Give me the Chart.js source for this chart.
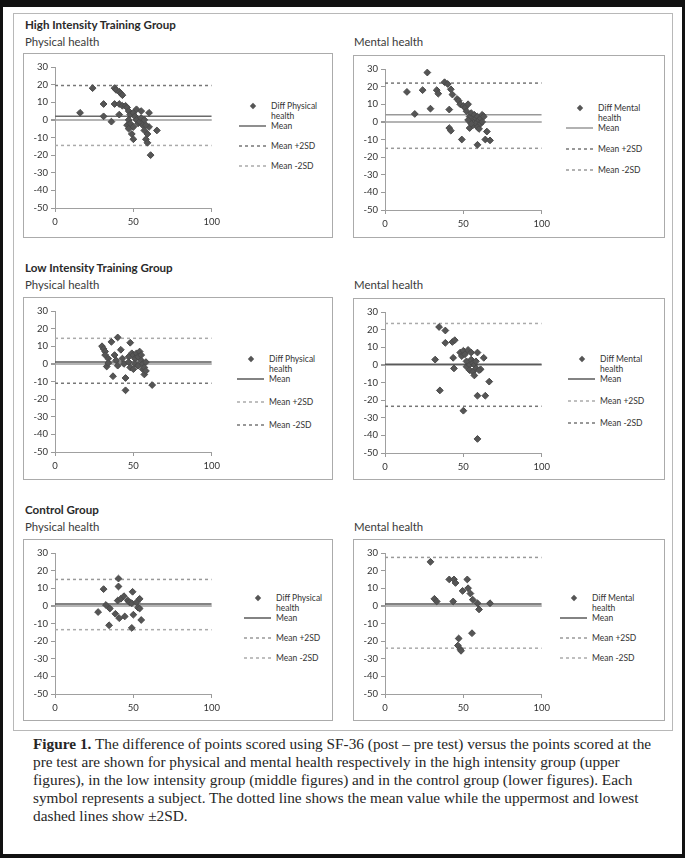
<!DOCTYPE html>
<html>
<head>
<meta charset="utf-8">
<script src="https://cdn.jsdelivr.net/npm/chart.js@4.4.0/dist/chart.umd.min.js"></script>
<style>
  html, body { margin: 0; padding: 0; }
  body { width: 685px; height: 858px; position: relative; background: #fff; overflow: hidden;
         font-family: Lato, "Liberation Sans", sans-serif; color: #2a2a2a; }
  .page { position: absolute; left: 0; top: 0; width: 685px; height: 858px; box-sizing: border-box;
          border-style: solid; border-color: #111; border-width: 7px 3px 4px 3px; }
  .frame { position: absolute; left: 13px; top: 13px; width: 660px; height: 718px; box-sizing: border-box;
           border: 1.5px solid #b8b8b8; }
  .h { position: absolute; white-space: nowrap; font-size: 11.4px; line-height: 13px; color: #3a3a3a; }
  .h.b { font-weight: bold; font-size: 11.6px; color: #2a2a2a; }
  .box { position: absolute; box-sizing: border-box; border: 1px solid #ababab; background: #fff; }
  .box canvas { position: absolute; left: 0; top: 0; }
  .leg { position: absolute; left: 0; top: 0; font-size: 8.5px; color: #333; }
  .leg .t { position: absolute; white-space: nowrap; line-height: 10px; }
  .leg svg { position: absolute; overflow: visible; }
  .cap { position: absolute; left: 33px; top: 735px; font-family: "Liberation Serif", "DejaVu Serif", serif;
         font-size: 15.3px; line-height: 18px; color: #262626; white-space: nowrap; }
</style>
</head>
<body>
<div class="page"></div>
<div class="frame"></div>
<div id="root"></div>
<div class="cap"><b>Figure 1.</b> The difference of points scored using SF-36 (post – pre test) versus the points scored at the<br>pre test are shown for physical and mental health respectively in the high intensity group (upper<br>figures), in the low intensity group (middle figures) and in the control group (lower figures). Each<br>symbol represents a subject. The dotted line shows the mean value while the uppermost and lowest<br>dashed lines show ±2SD.</div>
<script>
// titles and labels
const groupTitles = ['High Intensity Training Group', 'Low Intensity Training Group', 'Control Group'];
const measureTitles = ['Physical health', 'Mental health'];
const pointLabels = ['Diff Physical health', 'Diff Mental health'];
const lineLabels = ['Mean', 'Mean +2SD', 'Mean -2SD'];

// axes
const xMin = 0, xMax = 100, xStep = 50;
const yMin = -50, yMax = 30, yStep = 10;

// [pre test score, post - pre difference]
const highPhysical = [[24,18],[16,4],[31,9],[31,2],[36,-1],[38,18],[39,17],[41,16],[42,15],[43,14],[38,9],[41,9],[43,8],
  [41,3],[45,8],[46,7],[47,5],[48,3],[47,0],[46,-3],[47,-5],[49,-8],[50,-11],[50,4],[51,2],[52,0],[53,-2],[54,-1],
  [55,1],[56,-3],[57,-6],[58,-11],[59,-13],[59,-8],[60,-4],[60,4],[61,-20],[65,-6],[52,6],[55,5],[48,-2],[50,-4],[57,0],[58,-3]];
const highMental = [[14,17],[19,4.5],[24,18],[27,28],[29,7.5],[33,18],[34,16],[38,22.5],[40,21.5],[42,18.5],[41,7],[41,-3.5],
  [42,-5],[43,15.5],[46,13],[47,12],[48,10],[50,9],[51,8],[52,6],[53,10],[49,-10],[54,-3.5],[54,3],[55,5],[56,1],[56,-2],
  [57,4],[57,0],[58,2],[58,-1],[59,3],[59,-3],[60,1],[60,-4],[61,2],[61,-1],[62,4],[62,0],[63,3],[59,-13],[65,-5.5],
  [64,-10],[67,-10.5],[55,-1],[53,1]];
const lowPhysical = [[30,10],[31,8.5],[32,7],[32,5],[33,-1.5],[34,3],[34,0.5],[36,12.5],[38,5],[37,-7],[40,15],[39,2],[40,-1],
  [42,8],[43,3],[44,0],[45,-8],[45,-15],[48,12],[47,4],[47,1],[48,-2],[49,6],[50,5],[51,3],[51,0],[52,6],[53,4],[53,-1],
  [54,7],[55,5],[55,2],[56,0],[56,-3],[57,-2],[57,-6],[58,1],[58,-4],[62,-12],[50,-3]];
const lowMental = [[32,3],[34.5,21.5],[38.5,19.5],[35,-14.5],[38.5,12.5],[43,13],[44.5,14],[43.5,4],[44,-2],[48,7],[49,5],
  [50,8],[51,6],[52,2],[52,-1],[53,8.5],[54,0],[54,-3],[55,7],[55,3],[56,1],[56,-4],[57,0],[57,-6],[58,2],[58,-2],[59,7],
  [59,-17.5],[59,-42],[50,-26],[61,-2.5],[63,4],[64,-17.5],[66.5,-9.5],[60,-3]];
const controlPhysical = [[27.5,-3.5],[31,9.5],[32.5,0.5],[35,-1.5],[34.5,-11],[38.5,-4.5],[40.5,15.5],[40.5,11],[40,3],[42,4],
  [41,-7],[44,5.5],[44.5,-6],[46.5,3],[47.5,2],[49,1.5],[49.5,8],[50,-5],[49,-12.5],[52,2],[53,-1],[54,4],[55,-8],[54,-1.5]];
const controlMental = [[29,25],[31.5,4],[33,2.5],[41,15],[44,15],[45,13],[43.5,2.5],[47,-18.5],[46.5,-22.5],[48,-24.5],
  [48.5,-25.5],[49.5,8.5],[52.5,15],[53,10],[54.5,7],[56,3.5],[59,1.5],[60,-2],[55.5,-15.5],[67,1.5]];

// mean and limits of agreement, one per panel
const meanDiff = [2, 4, 1, 0.3, 1, 1];
const upper2SD = [19.5, 22, 14.5, 23.5, 15, 27.5];
const lower2SD = [-14.5, -15, -11, -23.5, -13.5, -24];

const panelPoints = [highPhysical, highMental, lowPhysical, lowMental, controlPhysical, controlMental];

// page layout (pixels)
const rowTitleY = [18, 261, 503];
const rowSubY = [35, 278, 520];
const panelBox = [
  {x: 23, y: 53, w: 310, h: 185, legX: 215, legY: 52, gap: 20},
  {x: 353, y: 55, w: 312, h: 183, legX: 212, legY: 52, gap: 21},
  {x: 23, y: 297, w: 310, h: 183, legX: 213, legY: 61, gap: 23},
  {x: 353, y: 298, w: 312, h: 182, legX: 214, legY: 60, gap: 22},
  {x: 23, y: 539, w: 310, h: 182, legX: 220, legY: 58, gap: 20},
  {x: 353, y: 539, w: 312, h: 182, legX: 206, legY: 58, gap: 20}
];
const lineColors = [
  ['#6a6a6a', '#777', '#aaa'],
  ['#999', '#777', '#999'],
  ['#5a5a5a', '#aaa', '#777'],
  ['#5a5a5a', '#aaa', '#777'],
  ['#5a5a5a', '#999', '#aaa'],
  ['#5a5a5a', '#999', '#aaa']
];

const root = document.getElementById('root');
function addText(cls, txt, x, y) {
  const d = document.createElement('div');
  d.className = cls;
  d.textContent = txt;
  d.style.left = x + 'px';
  d.style.top = y + 'px';
  root.appendChild(d);
}

groupTitles.forEach((t, r) => {
  addText('h b', t, 25, rowTitleY[r]);
  addText('h', measureTitles[0], 25, rowSubY[r]);
  addText('h', measureTitles[1], 354, rowSubY[r]);
});

panelPoints.forEach((pts, i) => {
  const b = panelBox[i];
  const box = document.createElement('div');
  box.className = 'box';
  box.style.left = b.x + 'px';
  box.style.top = b.y + 'px';
  box.style.width = b.w + 'px';
  box.style.height = b.h + 'px';
  root.appendChild(box);

  const cv = document.createElement('canvas');
  cv.width = 200;
  cv.height = 176;
  box.appendChild(cv);

  const cols = lineColors[i];
  const lines = [meanDiff[i], upper2SD[i], lower2SD[i]].map((v, k) => ({
    label: lineLabels[k],
    data: [{x: xMin, y: v}, {x: xMax, y: v}],
    showLine: true,
    borderColor: cols[k],
    borderWidth: 1.5,
    borderDash: k === 0 ? [] : [3, 3],
    pointRadius: 0,
    pointStyle: 'line'
  }));

  const datasets = [{
    label: pointLabels[i % 2],
    data: pts.map(p => ({x: p[0], y: p[1]})),
    pointStyle: 'rectRot',
    pointRadius: 3.4,
    backgroundColor: '#555',
    borderColor: '#4a4a4a',
    borderWidth: 1,
    showLine: false
  }].concat(lines);

  const tickFont = {family: 'Lato', size: 9.5};
  new Chart(cv.getContext('2d'), {
    type: 'scatter',
    data: {datasets: datasets},
    options: {
      responsive: false,
      animation: false,
      devicePixelRatio: 1,
      layout: {padding: {top: 13, right: 10, left: 0, bottom: 0}},
      plugins: {legend: {display: false}, tooltip: {enabled: false}},
      scales: {
        x: {
          type: 'linear', min: xMin, max: xMax,
          ticks: {stepSize: xStep, color: '#333', font: tickFont, padding: 4, maxRotation: 0},
          grid: {drawOnChartArea: false, tickColor: '#999', tickLength: 4},
          border: {color: '#a0a0a0', width: 1},
          afterFit: s => { s.height = 22; }
        },
        y: {
          type: 'linear', min: yMin, max: yMax,
          ticks: {stepSize: yStep, color: '#333', font: tickFont, padding: 3},
          grid: {
            color: c => (c.tick && c.tick.value === 0) ? '#b4b4b4' : 'rgba(0,0,0,0)',
            lineWidth: c => (c.tick && c.tick.value === 0) ? 2 : 1,
            tickColor: '#999', tickLength: 4
          },
          border: {color: '#a0a0a0', width: 1},
          afterFit: s => { s.width = 31; }
        }
      }
    }
  });

  // legend built from the datasets
  const leg = document.createElement('div');
  leg.className = 'leg';
  box.appendChild(leg);
  const rowsY = [b.legY, b.legY + 20, b.legY + 20 + b.gap, b.legY + 20 + 2 * b.gap];
  const words = datasets[0].label.split(' ');
  const firstLine = words.slice(0, 2).join(' ');
  const secondLine = words.slice(2).join(' ');
  const tx = b.legX + 32;
  function legText(txt, y) {
    const t = document.createElement('div');
    t.className = 't';
    t.textContent = txt;
    t.style.left = tx + 'px';
    t.style.top = (y - 5) + 'px';
    leg.appendChild(t);
  }
  legText(firstLine, rowsY[0]);
  legText(secondLine, rowsY[0] + 10);
  const ns = 'http://www.w3.org/2000/svg';
  const svg = document.createElementNS(ns, 'svg');
  svg.setAttribute('width', b.w);
  svg.setAttribute('height', b.h);
  svg.style.left = '0px';
  svg.style.top = '0px';
  const cx = b.legX + 14, cy = rowsY[0], r = 3.2;
  const dm = document.createElementNS(ns, 'polygon');
  dm.setAttribute('points', `${cx},${cy - r} ${cx + r},${cy} ${cx},${cy + r} ${cx - r},${cy}`);
  dm.setAttribute('fill', datasets[0].backgroundColor);
  svg.appendChild(dm);
  lines.forEach((ds, k) => {
    const y = rowsY[k + 1];
    const ln = document.createElementNS(ns, 'line');
    ln.setAttribute('x1', b.legX);
    ln.setAttribute('x2', b.legX + 27);
    ln.setAttribute('y1', y);
    ln.setAttribute('y2', y);
    ln.setAttribute('stroke', ds.borderColor);
    ln.setAttribute('stroke-width', ds.borderWidth);
    if (ds.borderDash.length) ln.setAttribute('stroke-dasharray', ds.borderDash.join(' '));
    svg.appendChild(ln);
    legText(ds.label, y);
  });
  leg.appendChild(svg);
});
</script>
</body>
</html>
